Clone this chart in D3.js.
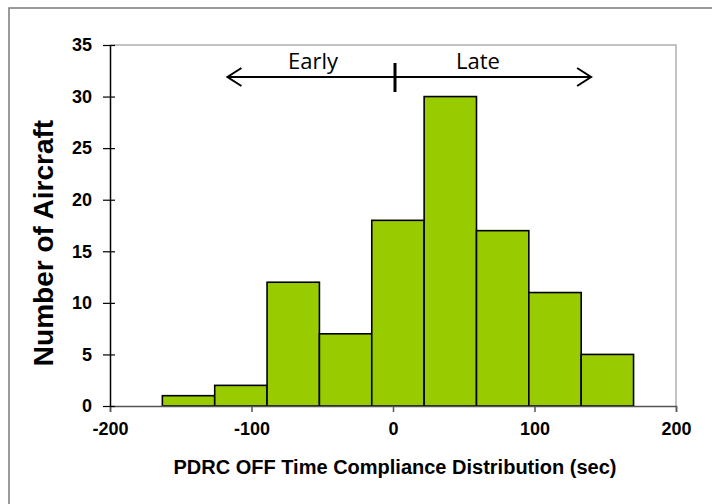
<!DOCTYPE html>
<html>
<head>
<meta charset="utf-8">
<script src="https://cdn.jsdelivr.net/npm/d3@7"></script>
<style>
  html, body { margin: 0; padding: 0; background: #fff; }
  svg { display: block; }
</style>
</head>
<body>
<svg id="chart" width="712" height="504"></svg>
<script>
// ---- data ----
const binStart = [-163, -126, -89, -52, -15, 22, 59, 96, 133];
const binEnd   = [-126, -89, -52, -15, 22, 59, 96, 133, 170];
const counts   = [1, 2, 12, 7, 18, 30, 17, 11, 5];
const xTicks   = [-200, -100, 0, 100, 200];
const yTicks   = [0, 5, 10, 15, 20, 25, 30, 35];
const xTitle   = "PDRC OFF Time Compliance Distribution (sec)";
const yTitle   = "Number of Aircraft";
const annotLabels = ["Early", "Late"];
const annotRange  = [-117, 140];   // arrow extent in data units
const annotCenter = [0];           // divider tick

// ---- layout ----
const svg = d3.select("#chart");
const pL = 110, pR = 676, pT = 45, pB = 406;
const x = d3.scaleLinear().domain([-200, 200]).range([pL, pR]);
const y = d3.scaleLinear().domain([0, 35]).range([pB, pT]);

// outer frame (top + left visible)
svg.append("rect").attr("x", 9).attr("y", 8).attr("width", 760).attr("height", 560)
  .attr("fill", "none").attr("stroke", "#7a7a7a").attr("stroke-width", 1.5);

// plot area border (gray top/right)
svg.append("path")
  .attr("d", `M${pL},${pT}H${pR}V${pB}`)
  .attr("fill", "none").attr("stroke", "#b0b0b0").attr("stroke-width", 1.5);

// bars
svg.append("g").selectAll("rect").data(counts).join("rect")
  .attr("x", (d, i) => x(binStart[i]))
  .attr("width", (d, i) => x(binEnd[i]) - x(binStart[i]))
  .attr("y", d => y(d))
  .attr("height", d => y(0) - y(d))
  .attr("fill", "#99cc00")
  .attr("stroke", "#000")
  .attr("stroke-width", 1.6);

// x axis
const xAxis = svg.append("g").attr("transform", `translate(0,${pB})`)
  .call(d3.axisBottom(x).tickValues(xTicks).tickSize(6).tickPadding(10).tickFormat(d => String(d)));
xAxis.select(".domain").attr("stroke", "#555").attr("stroke-width", 1.5);
xAxis.selectAll(".tick line").attr("stroke", "#555").attr("stroke-width", 1.5);
xAxis.selectAll("text").attr("font-family", "Liberation Sans, Arial, sans-serif")
  .attr("font-weight", "bold").attr("font-size", 18).attr("fill", "#000");

// y axis (cross ticks)
const yAxis = svg.append("g").attr("transform", `translate(${pL},0)`)
  .call(d3.axisLeft(y).tickValues(yTicks).tickSize(0).tickPadding(18));
yAxis.select(".domain").attr("stroke", "#000").attr("stroke-width", 1.5);
yAxis.selectAll(".tick").append("line")
  .attr("x1", -7).attr("x2", 5).attr("stroke", "#000").attr("stroke-width", 1.2);
yAxis.selectAll("text").attr("font-family", "Liberation Sans, Arial, sans-serif")
  .attr("font-weight", "bold").attr("font-size", 18).attr("fill", "#000");

// titles
svg.append("text")
  .attr("x", (pL + pR) / 2 + 2).attr("y", 474)
  .attr("text-anchor", "middle")
  .attr("font-family", "Liberation Sans, Arial, sans-serif")
  .attr("font-weight", "bold").attr("font-size", 20)
  .text(xTitle);

svg.append("text")
  .attr("transform", `translate(53,243) rotate(-90)`)
  .attr("text-anchor", "middle")
  .attr("font-family", "Liberation Sans, Arial, sans-serif")
  .attr("font-weight", "bold").attr("font-size", 28)
  .text(yTitle);

// Early / Late annotation
const ay = 77;
const ag = svg.append("g").attr("stroke", "#000").attr("fill", "none");
const xl = x(annotRange[0]), xr = x(annotRange[1]);
ag.append("line").attr("x1", xl).attr("x2", xr).attr("y1", ay).attr("y2", ay).attr("stroke-width", 2);
ag.append("path").attr("d", `M${xl + 14},${ay - 9}L${xl},${ay}L${xl + 14},${ay + 9}`).attr("stroke-width", 2);
ag.append("path").attr("d", `M${xr - 14},${ay - 9}L${xr},${ay}L${xr - 14},${ay + 9}`).attr("stroke-width", 2);
ag.append("line").attr("x1", x(annotCenter[0]) + 2).attr("x2", x(annotCenter[0]) + 2)
  .attr("y1", ay - 14).attr("y2", ay + 15).attr("stroke-width", 3);

svg.append("text").attr("x", 313).attr("y", 69).attr("text-anchor", "middle")
  .attr("font-family", "Open Sans, sans-serif").attr("font-size", 22).text(annotLabels[0]);
svg.append("text").attr("x", 478).attr("y", 69).attr("text-anchor", "middle")
  .attr("font-family", "Open Sans, sans-serif").attr("font-size", 22).text(annotLabels[1]);
</script>
</body>
</html>
